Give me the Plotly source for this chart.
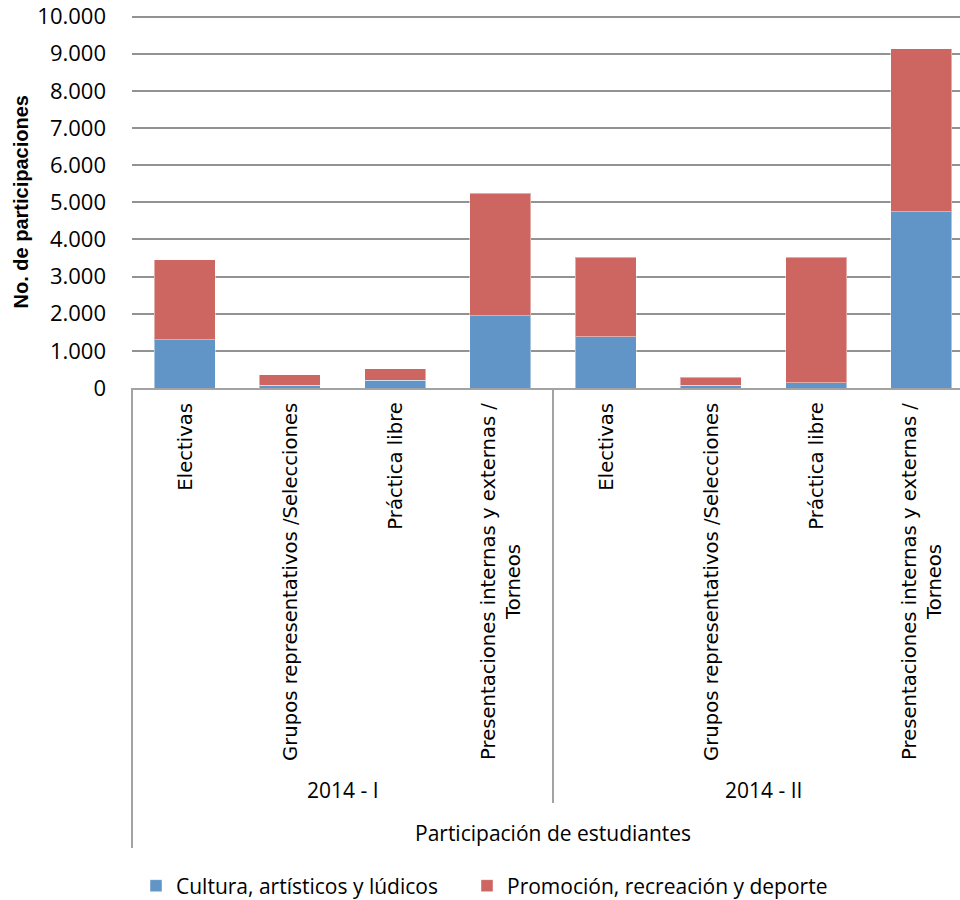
import plotly.graph_objects as go

periods = ["2014 - I", "2014 - I", "2014 - I", "2014 - I",
           "2014 - II", "2014 - II", "2014 - II", "2014 - II"]
activities = ["Electivas", "Grupos representativos /Selecciones", "Práctica libre",
              "Presentaciones internas y externas /<br>Torneos",
              "Electivas", "Grupos representativos /Selecciones", "Práctica libre",
              "Presentaciones internas y externas /<br>Torneos"]
cultura = [1300, 70, 215, 1940, 1375, 80, 135, 4745]
promocion = [2150, 290, 300, 3305, 2145, 205, 3385, 4383]
group_names = ["2014 - I", "2014 - II"]
outer_title = "Participación de estudiantes"
y_ticks = [0, 1000, 2000, 3000, 4000, 5000, 6000, 7000, 8000, 9000, 10000]
y_tick_text = ["0", "1.000", "2.000", "3.000", "4.000", "5.000", "6.000",
               "7.000", "8.000", "9.000", "10.000"]

BLUE = "#6295C7"
RED = "#CD6660"
GRID = "#929292"
AXIS = "#A3A3A3"

keys = [f"{p}|{a}" for p, a in zip(periods, activities)]

fig = go.Figure()
fig.add_trace(go.Bar(x=keys, y=cultura, name="Cultura, artísticos y lúdicos", legend="legend",
                     marker=dict(color=BLUE, line=dict(color="rgba(255,255,255,0.45)", width=1))))
fig.add_trace(go.Bar(x=keys, y=promocion, name="Promoción, recreación y deporte", legend="legend2",
                     marker=dict(color=RED, line=dict(color="rgba(255,255,255,0.45)", width=1))))

W, H = 960, 900
ML, MT, PH = 132, 17, 371
CAT = 105.25                       # pixels per category
n = len(keys)
xmin = -0.5
xmax = xmin + (W - ML) / CAT
YMAX = 10000
ypad = 150                         # headroom so the top gridline is not at the frame edge
PH2 = PH * (YMAX + ypad) / YMAX

def xp(v):
    return (v - xmin) / (xmax - xmin)

annotations = []
for k, a in zip(keys, activities):
    annotations.append(dict(x=k, xref="x", y=0, yref="paper", yshift=-13,
                            text=a, textangle=-90, showarrow=False,
                            xanchor="center", yanchor="top", align="center",
                            font=dict(family="DejaVu Sans", size=19.6, color="#000")))
for g in group_names:
    idx = [i for i, p in enumerate(periods) if p == g]
    c = (idx[0] + idx[-1]) / 2
    annotations.append(dict(x=c, xref="x", y=0, yref="paper", yshift=-402,
                            text=g, showarrow=False, xanchor="center", yanchor="middle",
                            font=dict(family="Open Sans", size=21, color="#000")))
annotations.append(dict(x=(n - 1) / 2, xref="x", y=0, yref="paper", yshift=-445,
                        text=outer_title, showarrow=False, xanchor="center", yanchor="middle",
                        font=dict(family="Open Sans", size=21, color="#000")))
annotations.append(dict(x=0, xref="paper", y=0, yref="paper", xshift=-112, yshift=185.5,
                        text="<b>No. de participaciones</b>", textangle=-90, showarrow=False,
                        xanchor="center", yanchor="middle",
                        font=dict(family="Liberation Sans", size=20, color="#000")))

shapes = [
    dict(type="line", xref="paper", x0=xp(-0.5), x1=xp(-0.5), yref="paper",
         ysizemode="pixel", yanchor=0, y0=0, y1=-460, line=dict(color=AXIS, width=2)),
    dict(type="line", xref="paper", x0=xp(3.5), x1=xp(3.5), yref="paper",
         ysizemode="pixel", yanchor=0, y0=0, y1=-415, line=dict(color=AXIS, width=2)),
]

legend_common = dict(orientation="h", xanchor="left", xref="container", yref="container",
                     y=(H - 886) / H, yanchor="middle", itemwidth=30,
                     font=dict(family="Open Sans", size=21, color="#000"),
                     bgcolor="rgba(0,0,0,0)")

fig.update_layout(
    width=W, height=H,
    barmode="stack", bargap=0.42,
    plot_bgcolor="white", paper_bgcolor="white",
    margin=dict(l=ML, r=0, t=MT - (PH2 - PH), b=H - MT - PH, autoexpand=False),
    annotations=annotations, shapes=shapes,
    showlegend=True,
    legend=dict(x=136 / W, **legend_common),
    legend2=dict(x=467 / W, **legend_common),
    xaxis=dict(type="category", range=[xmin, xmax], showticklabels=False,
               showgrid=False, showline=True, linecolor=AXIS, linewidth=2,
               ticks="", zeroline=False, fixedrange=True, automargin=False),
    yaxis=dict(range=[0, YMAX + ypad], tickvals=y_ticks, ticktext=y_tick_text,
               showgrid=True, gridcolor=GRID, gridwidth=1.5, zeroline=False,
               showline=False, ticks="", ticklabelstandoff=25, automargin=False,
               ticklabeloverflow="allow", fixedrange=True,
               tickfont=dict(family="Open Sans", size=22, color="#000")),
)

fig.write_html("out.html", config={"displayModeBar": False},
               post_script="document.body.style.margin='0px';")
